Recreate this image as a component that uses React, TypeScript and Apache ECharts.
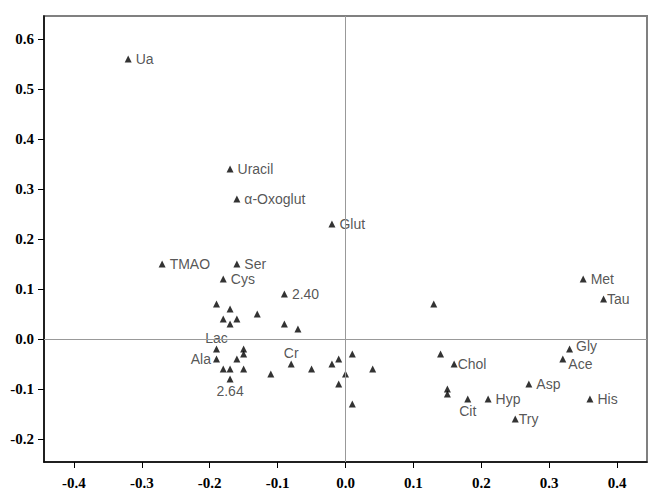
import React, { useEffect, useRef } from "react";
import * as echarts from "echarts";

const pointNames = [
  "Ua", "Uracil", "α-Oxoglut", "Glut", "TMAO", "Ser", "Cys", "2.40", "Met", "Tau",
  "", "", "", "", "", "", "", "", "",
  "Lac", "", "", "Ala", "", "", "", "", "2.64", "", "Cr",
  "", "", "", "", "", "", "", "", "",
  "Chol", "Gly", "Ace", "Asp", "His", "Hyp", "Cit", "Try", "", "",
];
const pointX = [
  -0.32, -0.17, -0.16, -0.02, -0.27, -0.16, -0.18, -0.09, 0.35, 0.38,
  0.13, -0.19, -0.17, -0.13, -0.18, -0.16, -0.17, -0.09, -0.07,
  -0.19, -0.15, -0.15, -0.19, -0.16, -0.18, -0.17, -0.15, -0.17, -0.11, -0.08,
  -0.05, -0.02, -0.01, 0.0, -0.01, 0.01, 0.04, 0.01, 0.14,
  0.16, 0.33, 0.32, 0.27, 0.36, 0.21, 0.18, 0.25, 0.15, 0.15,
];
const pointY = [
  0.56, 0.34, 0.28, 0.23, 0.15, 0.15, 0.12, 0.09, 0.12, 0.08,
  0.07, 0.07, 0.06, 0.05, 0.04, 0.04, 0.03, 0.03, 0.02,
  -0.02, -0.02, -0.03, -0.04, -0.04, -0.06, -0.06, -0.06, -0.08, -0.07, -0.05,
  -0.06, -0.05, -0.04, -0.07, -0.09, -0.03, -0.06, -0.13, -0.03,
  -0.05, -0.02, -0.04, -0.09, -0.12, -0.12, -0.12, -0.16, -0.10, -0.11,
];
const xTicks = [-0.4, -0.3, -0.2, -0.1, 0.0, 0.1, 0.2, 0.3, 0.4];
const yTicks = [-0.2, -0.1, 0.0, 0.1, 0.2, 0.3, 0.4, 0.5, 0.6];

// label placement (style only)
const labelPlacement: Record<string, { position: string; distance: number; dy?: number }> = {
  Lac: { position: "top", distance: 1 },
  Ala: { position: "left", distance: 2 },
  "2.64": { position: "bottom", distance: 2 },
  Cr: { position: "top", distance: 1 },
  Cit: { position: "bottom", distance: 2 },
  Chol: { position: "right", distance: 0 },
  Tau: { position: "right", distance: 0 },
  Try: { position: "right", distance: 0 },
  Gly: { position: "right", distance: 3, dy: -3 },
  Ace: { position: "right", distance: 2, dy: 5 },
};

export default function App() {
  const ref = useRef<HTMLDivElement>(null);
  useEffect(() => {
    document.body.style.margin = "0";
    const chart = echarts.init(ref.current!, null, { renderer: "svg" });
    const data = pointX.map((x, i) => {
      const name = pointNames[i];
      const pl = labelPlacement[name] || { position: "right", distance: 4 };
      return {
        value: [x, pointY[i]],
        name,
        label: {
          show: name !== "",
          formatter: name,
          position: pl.position,
          distance: pl.distance,
        },
      };
    });
    const tickFont = {
      fontFamily: "'Liberation Serif', 'Times New Roman', serif",
      fontSize: 15,
      fontWeight: "bold" as const,
      color: "#000",
    };
    chart.setOption({
      animation: false,
      backgroundColor: "#fff",
      grid: {
        left: 44,
        top: 16,
        width: 603,
        height: 446,
        show: true,
        borderColor: "#808080",
        borderWidth: 2,
        backgroundColor: "#fff",
      },
      xAxis: {
        type: "value",
        min: -0.444,
        max: 0.444,
        axisLine: { show: true, onZero: false, lineStyle: { color: "#000", width: 1.5 } },
        axisTick: { show: true, length: 6, customValues: xTicks, lineStyle: { color: "#000", width: 1 } },
        axisLabel: {
          customValues: xTicks,
          margin: 13,
          formatter: (v: number) => v.toFixed(1),
          ...tickFont,
        },
        splitLine: { show: false },
      },
      yAxis: {
        type: "value",
        min: -0.246,
        max: 0.646,
        axisLine: { show: true, onZero: false, lineStyle: { color: "#000", width: 1.5 } },
        axisTick: { show: true, length: 6, customValues: yTicks, lineStyle: { color: "#000", width: 1 } },
        axisLabel: {
          customValues: yTicks,
          margin: 10,
          formatter: (v: number) => v.toFixed(1),
          ...tickFont,
        },
        splitLine: { show: false },
      },
      series: [
        {
          type: "scatter",
          symbol: "triangle",
          symbolSize: 7,
          itemStyle: { color: "#000" },
          label: {
            fontFamily: "'Liberation Sans', Arial, sans-serif",
            fontSize: 14,
            lineHeight: 13,
            color: "#2a2a2a",
          },
          labelLayout: (params: any) => {
            const pl = labelPlacement[pointNames[params.dataIndex]];
            return { hideOverlap: false, dy: pl && pl.dy ? pl.dy : 0 };
          },
          data,
          markLine: {
            silent: true,
            symbol: ["none", "none"],
            label: { show: false },
            lineStyle: { color: "#999", width: 1, type: "solid" },
            data: [{ xAxis: 0 }, { yAxis: 0 }],
          },
          z: 3,
        },
      ],
    });
    return () => chart.dispose();
  }, []);
  return <div ref={ref} style={{ width: 661, height: 497 }} />;
}
